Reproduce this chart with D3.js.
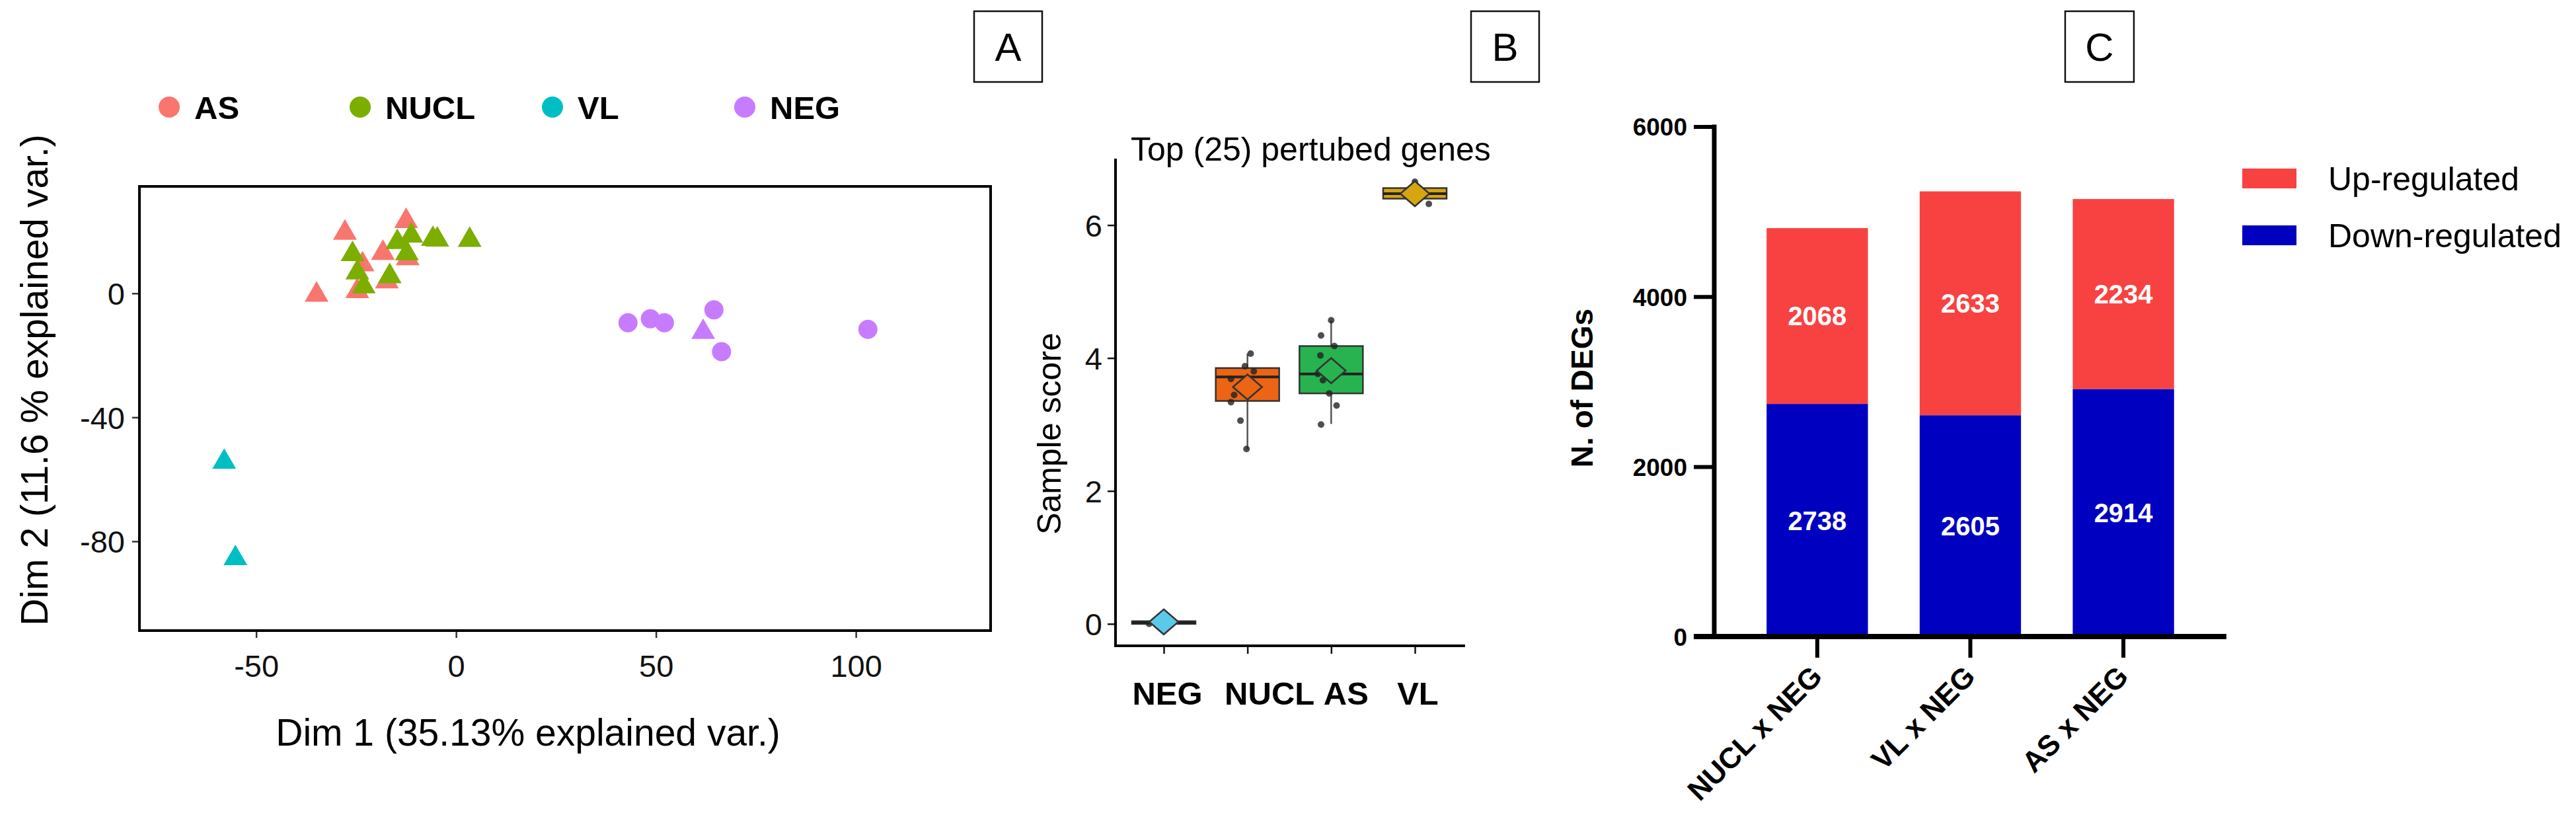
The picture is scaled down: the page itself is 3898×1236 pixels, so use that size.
<!DOCTYPE html>
<html><head><meta charset="utf-8">
<script src="https://cdn.jsdelivr.net/npm/d3@7"></script>
<style>html,body{margin:0;padding:0;background:#fff;} svg{display:block;font-family:"Liberation Sans",Arial,sans-serif;}</style>
</head><body><svg id="c" width="3898" height="1236"></svg>
<script>
// ---------- DATA ----------
// Panel A: PCA
const pcaGroups = ["AS","NUCL","VL","NEG"];
const pcaColors = ["#F8766D","#7CAE00","#00BFC4","#C77CFF"];
const asDim1 = [-12.5,-27.8,-18.3,-23.4,-12.1,-34.9,-24.7,-17.3];
const asDim2 = [23.3,19.5,13.0,9.3,11.3,-0.5,0.7,3.8];
const nuclDim1 = [-11.2,-14.7,-5.8,-4.7,3.4,-25.9,-12.3,-24.7,-16.6,-23.1];
const nuclDim2 = [18.6,16.5,17.5,17.3,17.2,12.6,12.9,6.7,5.5,2.2];
const vlDim1 = [-58.0,-55.2];
const vlDim2 = [-54.4,-85.5];
const negDim1 = [43.0,48.6,52.1,64.5,66.4,61.8,103.0];
const negDim2 = [-9.5,-8.2,-9.5,-5.3,-18.8,-12.5,-11.6];
const negShape = ["circle","circle","circle","circle","circle","triangle","circle"];
const pcaXTicks = [-50,0,50,100];
const pcaYTicks = [-80,-40,0];
const pcaXTitle = "Dim 1 (35.13% explained var.)";
const pcaYTitle = "Dim 2 (11.6 % explained var.)";

// Panel B: sample score boxplots
const scoreGroups = ["NEG","NUCL","AS","VL"];
const scoreColors = ["#5BC9EA","#EC6414","#27B34F","#D6A50F"];
const scoreQ1 = [0.0,3.354,3.468,6.398];
const scoreMedian = [0.02,3.716,3.761,6.473];
const scoreQ3 = [0.04,3.849,4.18,6.557];
const scoreWhiskerLow = [0.0,2.631,3.008,6.318];
const scoreWhiskerHigh = [0.04,4.066,4.568,6.652];
const scoreMean = [0.03,3.564,3.81,6.473];
const scorePoints = [[0.0,0.04,0.06],[4.066,3.876,3.80,3.685,3.445,3.336,3.058,2.631],[4.568,4.34,4.18,4.039,3.761,3.666,3.468,3.286,3.0],[6.652,6.48,6.318]];
const scoreJitter = [[-0.46,-0.22,0.11],[0.10,-0.08,0.20,-0.52,-0.42,-0.52,-0.22,-0.03],[0,-0.32,0.10,-0.34,-0.42,-0.26,-0.06,0.17,-0.32],[0,0,0.44]];
const scoreTicks = [0,2,4,6];
const scoreTitle = "Top (25) pertubed genes";
const scoreYTitle = "Sample score";

// Panel C: DEGs stacked bars
const degComparisons = ["NUCL x NEG","VL x NEG","AS x NEG"];
const degDown = [2738,2605,2914];
const degUp = [2068,2633,2234];
const degTicks = [0,2000,4000,6000];
const degSeries = ["Up-regulated","Down-regulated"];
const degColors = ["#F84242","#0000C0"];
const degYTitle = "N. of DEGs";

const panelLetters = ["A","B","C"];

// ---------- DRAW ----------
const svg = d3.select("#c");
svg.append("rect").attr("width",3898).attr("height",1236).attr("fill","#fff");

// Panel letter boxes
const letterBoxes = [[1474,17,103,107],[2226,17,103,107],[3125,17,104,107]];
panelLetters.forEach((L,i)=>{
  const b = letterBoxes[i];
  svg.append("rect").attr("x",b[0]).attr("y",b[1]).attr("width",b[2]).attr("height",b[3])
    .attr("fill","#fff").attr("stroke","#111").attr("stroke-width",2.5);
  svg.append("text").attr("x",b[0]+b[2]/2).attr("y",b[1]+b[3]/2).attr("dy","0.36em")
    .attr("text-anchor","middle").attr("font-size",60).attr("fill","#000").text(L);
});

// ===== Panel A =====
const gA = svg.append("g");
const xA = d3.scaleLinear().domain([-79.2,133.7]).range([211,1499]);
const yA = d3.scaleLinear().domain([-108.8,34.5]).range([954,282]);

// legend
const legX = [256,545,836,1127];
pcaGroups.forEach((g,i)=>{
  gA.append("circle").attr("cx",legX[i]).attr("cy",162).attr("r",16).attr("fill",pcaColors[i]);
  gA.append("text").attr("x",legX[i]+38).attr("y",162).attr("dy","0.36em")
    .attr("font-size",49).attr("font-weight","bold").text(g);
});

// axes
const axA_x = d3.axisBottom(xA).tickValues(pcaXTicks).tickSize(9).tickFormat(d3.format("d"));
const gAx = gA.append("g").attr("transform","translate(0,956)").call(axA_x);
gAx.select(".domain").remove();
gAx.selectAll(".tick line").attr("stroke","#333").attr("stroke-width",2.5);
gAx.selectAll(".tick text").attr("y",51).attr("dy","0.36em").attr("font-size",47)
  .attr("font-family","Liberation Sans, Arial, sans-serif").attr("fill","#111").text(d=>d<0?"-"+Math.abs(d):d);

const axA_y = d3.axisLeft(yA).tickValues(pcaYTicks).tickSize(9);
const gAy = gA.append("g").attr("transform","translate(209,0)").call(axA_y);
gAy.select(".domain").remove();
gAy.selectAll(".tick line").attr("stroke","#333").attr("stroke-width",2.5);
gAy.selectAll(".tick text").attr("x",-20).attr("dy","0.36em").attr("font-size",47)
  .attr("font-family","Liberation Sans, Arial, sans-serif").attr("fill","#111").text(d=>d<0?"-"+Math.abs(d):d);

// points
const tri = d3.symbol().type(d3.symbolTriangle).size(560);
function drawTri(xs,ys,color){
  xs.forEach((v,i)=>{
    gA.append("path").attr("d",tri()).attr("fill",color)
      .attr("transform",`translate(${xA(v)},${yA(ys[i])})`);
  });
}
drawTri(asDim1,asDim2,pcaColors[0]);
drawTri(nuclDim1,nuclDim2,pcaColors[1]);
drawTri(vlDim1,vlDim2,pcaColors[2]);
negDim1.forEach((v,i)=>{
  if(negShape[i]==="circle"){
    gA.append("circle").attr("cx",xA(v)).attr("cy",yA(negDim2[i])).attr("r",14.5).attr("fill",pcaColors[3]);
  } else {
    gA.append("path").attr("d",tri()).attr("fill",pcaColors[3])
      .attr("transform",`translate(${xA(v)},${yA(negDim2[i])})`);
  }
});

// frame
gA.append("rect").attr("x",211).attr("y",282).attr("width",1288).attr("height",672)
  .attr("fill","none").attr("stroke","#000").attr("stroke-width",4);

// titles
gA.append("text").attr("x",799).attr("y",1107).attr("dy","0.36em").attr("text-anchor","middle")
  .attr("font-size",57).text(pcaXTitle);
gA.append("text").attr("transform","translate(51,575) rotate(-90)").attr("dy","0.36em")
  .attr("text-anchor","middle").attr("font-size",57).text(pcaYTitle);

// ===== Panel B =====
const gB = svg.append("g");
const yB = d3.scaleLinear().domain([-0.33,7.0]).range([977,240]);
const xB = d3.scalePoint().domain(scoreGroups).range([1685,2217]).padding(0.6);
const boxW = 96;

// axes
const axB_y = d3.axisLeft(yB).tickValues(scoreTicks).tickSize(12);
const gBy = gB.append("g").attr("transform","translate(1688,0)").call(axB_y);
gBy.select(".domain").remove();
gBy.selectAll(".tick line").attr("stroke","#111").attr("stroke-width",2.5);
gBy.selectAll(".tick text").attr("x",-20).attr("dy","0.36em").attr("font-size",47)
  .attr("font-family","Liberation Sans, Arial, sans-serif").attr("fill","#111");

const labelNudgeB = [5,33,22,4];
const axB_x = d3.axisBottom(xB).tickSize(12);
const gBx = gB.append("g").attr("transform","translate(0,977)").call(axB_x);
gBx.select(".domain").remove();
gBx.selectAll(".tick line").attr("stroke","#111").attr("stroke-width",2.5);
gBx.selectAll(".tick text").attr("y",71).attr("dy","0.36em").attr("font-size",49)
  .attr("x",(d,i)=>labelNudgeB[i])
  .attr("font-weight","bold").attr("font-family","Liberation Sans, Arial, sans-serif").attr("fill","#000");

gB.append("line").attr("x1",1688).attr("x2",1688).attr("y1",240).attr("y2",979).attr("stroke","#000").attr("stroke-width",4);
gB.append("line").attr("x1",1686).attr("x2",2217).attr("y1",977).attr("y2",977).attr("stroke","#000").attr("stroke-width",4);

// boxes
scoreGroups.forEach((g,i)=>{
  const cx = xB(g);
  gB.append("line").attr("x1",cx).attr("x2",cx).attr("y1",yB(scoreWhiskerLow[i])).attr("y2",yB(scoreWhiskerHigh[i]))
    .attr("stroke","#555").attr("stroke-width",2.5);
  gB.append("rect").attr("x",cx-boxW/2).attr("width",boxW)
    .attr("y",yB(scoreQ3[i])).attr("height",Math.max(1,yB(scoreQ1[i])-yB(scoreQ3[i])))
    .attr("fill",scoreColors[i]).attr("stroke","#333").attr("stroke-width",2.5);
  gB.append("line").attr("x1",cx-boxW/2).attr("x2",cx+boxW/2).attr("y1",yB(scoreMedian[i])).attr("y2",yB(scoreMedian[i]))
    .attr("stroke","#222").attr("stroke-width",4);
  scorePoints[i].forEach((v,j)=>{
    gB.append("circle").attr("cx",cx+scoreJitter[i][j]*boxW/2).attr("cy",yB(v)).attr("r",5)
      .attr("fill","#222").attr("opacity",0.8);
  });
  const my = yB(scoreMean[i]);
  gB.append("path").attr("d",`M${cx},${my-19}L${cx+22},${my}L${cx},${my+19}L${cx-22},${my}Z`)
    .attr("fill",scoreColors[i]).attr("stroke","#333").attr("stroke-width",2.5);
});

gB.append("text").attr("x",1711).attr("y",225).attr("dy","0.36em").attr("font-size",50).text(scoreTitle);
gB.append("text").attr("transform","translate(1587,656) rotate(-90)").attr("dy","0.36em")
  .attr("text-anchor","middle").attr("font-size",50).text(scoreYTitle);

// ===== Panel C =====
const gC = svg.append("g");
const yC = d3.scaleLinear().domain([0,6000]).range([963.3,191.5]);
const xC = d3.scaleBand().domain(degComparisons).range([2594,3369]).paddingInner(0.338).paddingOuter(0.342);

const degTable = degComparisons.map((c,i)=>({comp:c, "Down-regulated":degDown[i], "Up-regulated":degUp[i]}));
const stack = d3.stack().keys(["Down-regulated","Up-regulated"])(degTable);
stack.forEach(layer=>{
  const color = degColors[degSeries.indexOf(layer.key)];
  layer.forEach(seg=>{
    gC.append("rect").attr("x",xC(seg.data.comp)).attr("width",xC.bandwidth())
      .attr("y",yC(seg[1])).attr("height",yC(seg[0])-yC(seg[1])).attr("fill",color);
    gC.append("text").attr("x",xC(seg.data.comp)+xC.bandwidth()/2).attr("y",yC((seg[0]+seg[1])/2))
      .attr("dy","0.36em").attr("text-anchor","middle").attr("font-size",40).attr("font-weight","bold")
      .attr("fill","#fff").text(seg[1]-seg[0]);
  });
});

// y axis
const axC_y = d3.axisLeft(yC).tickValues(degTicks).tickSize(31).tickFormat(d3.format("d"));
const gCy = gC.append("g").attr("transform","translate(2594,0)").call(axC_y);
gCy.select(".domain").remove();
gCy.selectAll(".tick line").attr("stroke","#000").attr("stroke-width",6);
gCy.selectAll(".tick text").attr("x",-41).attr("dy","0.36em").attr("font-size",37).attr("font-weight","bold")
  .attr("font-family","Liberation Sans, Arial, sans-serif").attr("fill","#000");
gC.append("line").attr("x1",2594).attr("x2",2594).attr("y1",yC(6000)-3).attr("y2",yC(0)).attr("stroke","#000").attr("stroke-width",7);
gC.append("line").attr("x1",2563).attr("x2",3369).attr("y1",963).attr("y2",963).attr("stroke","#000").attr("stroke-width",8);

// x axis ticks & labels
const axC_x = d3.axisBottom(xC).tickSize(32).tickFormat("");
const gCx = gC.append("g").attr("transform","translate(0,963)").call(axC_x);
gCx.select(".domain").remove();
gCx.selectAll(".tick line").attr("stroke","#000").attr("stroke-width",6);
degComparisons.forEach(c=>{
  const cx = xC(c)+xC.bandwidth()/2;
  gC.append("text").attr("transform",`translate(${cx+10},${1026}) rotate(-45)`)
    .attr("text-anchor","end").attr("font-size",44).attr("font-weight","bold").text(c);
});

gC.append("text").attr("transform","translate(2393,587) rotate(-90)").attr("dy","0.36em")
  .attr("text-anchor","middle").attr("font-size",46).attr("font-weight","bold").text(degYTitle);

// legend
degSeries.forEach((s,i)=>{
  const ly = [270,356][i];
  gC.append("rect").attr("x",3393).attr("y",ly-15).attr("width",82).attr("height",30).attr("fill",degColors[i]);
  gC.append("text").attr("x",3523).attr("y",ly).attr("dy","0.36em").attr("font-size",50).text(s);
});
</script></body></html>
